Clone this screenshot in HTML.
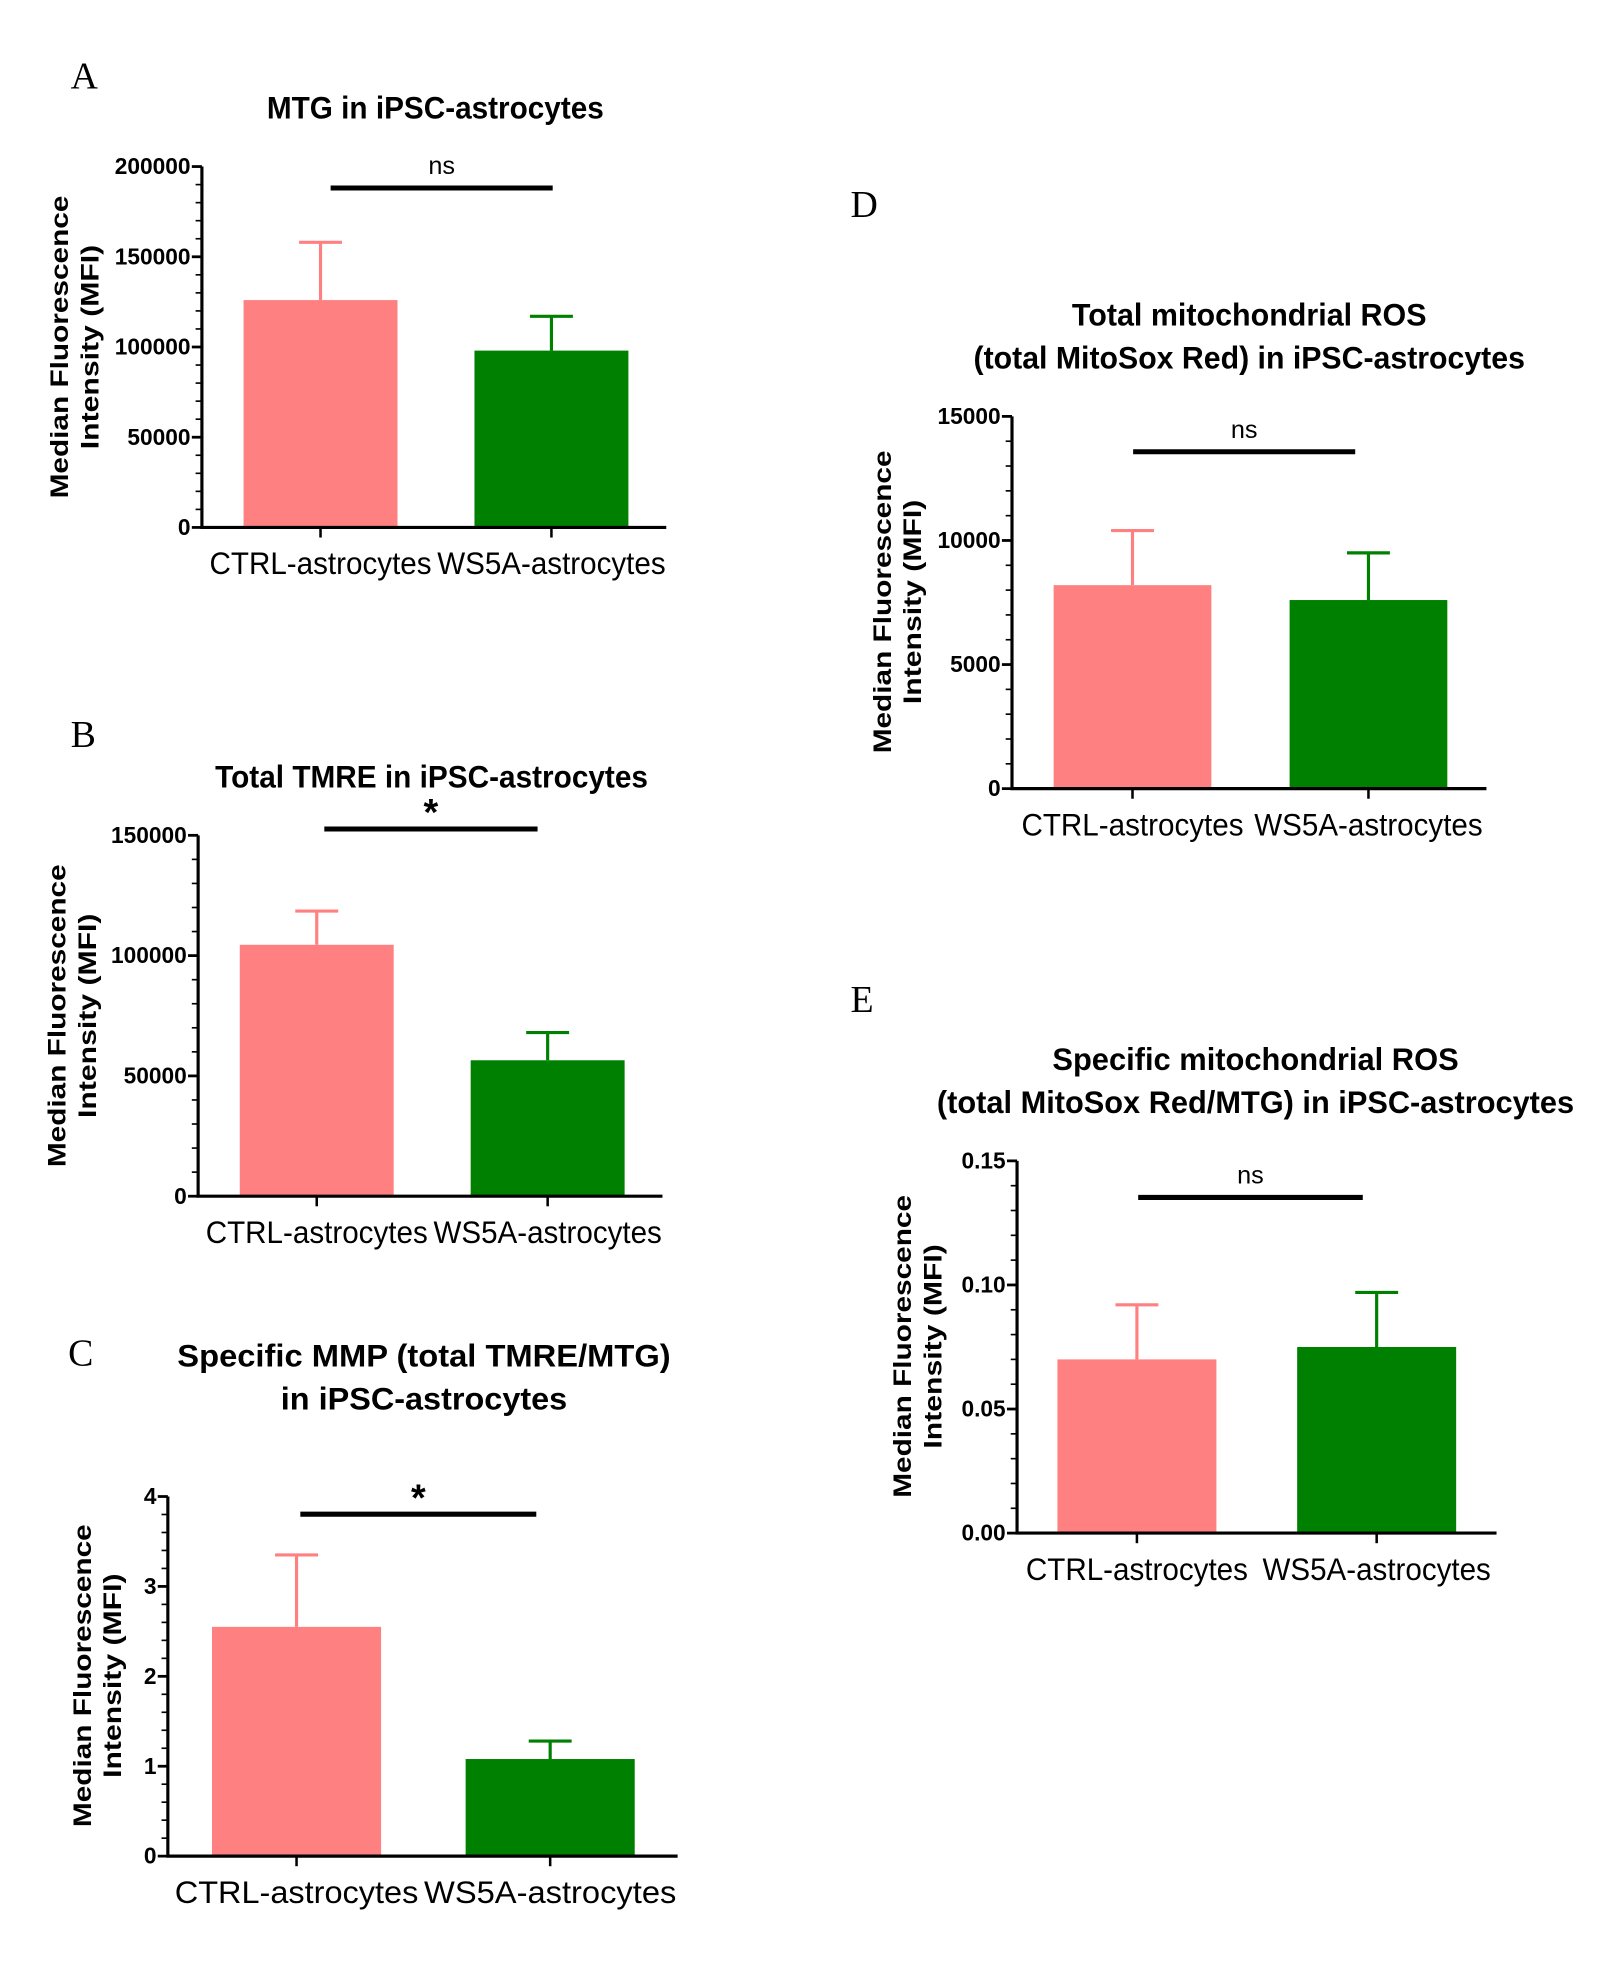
<!DOCTYPE html>
<html><head><meta charset="utf-8"><style>
html,body{margin:0;padding:0;background:#fff}
svg{display:block}
</style></head><body>
<svg id="fig" width="1624" height="1976" viewBox="0 0 1287 1566" xmlns="http://www.w3.org/2000/svg"></svg>
<script>
const categories = ["CTRL-astrocytes","WS5A-astrocytes"];
const meansA = [126000, 98000], errsA = [158000, 117000];
const meansB = [104500, 56500], errsB = [118500, 68000];
const meansC = [2.55, 1.08], errsC = [3.35, 1.28];
const meansD = [8200, 7600], errsD = [10400, 9500];
const meansE = [0.070, 0.075], errsE = [0.092, 0.097];
const ticksA = ["0","50000","100000","150000","200000"];
const ticksB = ["0","50000","100000","150000"];
const ticksC = ["0","1","2","3","4"];
const ticksD = ["0","5000","10000","15000"];
const ticksE = ["0.00","0.05","0.10","0.15"];
const sigA="ns", sigB="*", sigC="*", sigD="ns", sigE="ns";

const NS="http://www.w3.org/2000/svg";
const svg=document.getElementById('fig');
const COLORS=["#ff8080","#008000"];
function mk(tag,attrs,parent,text){const e=document.createElementNS(NS,tag);for(const k in attrs)e.setAttribute(k,attrs[k]);if(text!==undefined)e.textContent=text;(parent||svg).appendChild(e);return e;}

function panel(p){
  const g=mk('g',{});
  
  
  const ymax=parseFloat(p.ticks[p.ticks.length-1]);
  const ys=v=>p.bottom-(v/ymax)*(p.bottom-p.top);
  const CATW=p.catw||[176,181];
  const L=mk('text',{x:p.letter[0],y:p.letter[1],'font-family':'Liberation Serif,serif','font-size':30},g,p.id);
  
  p.title.forEach((t,i)=>{const e=mk('text',{x:p.titleX,y:p.titleY+i*34,'text-anchor':'middle','font-family':'Liberation Sans,sans-serif','font-weight':'bold','font-size':25,textLength:p.tw[i],lengthAdjust:'spacingAndGlyphs'},g,t);
    });
  categories.forEach((c,i)=>{
    const x0=p.bars[i], w=p.bw, yv=ys(p.means[i]), ye=ys(p.errs[i]), cx=x0+w/2;
    const b=mk('rect',{x:x0,y:yv,width:w,height:p.bottom-yv,fill:COLORS[i]},g);
    
    const el=mk('path',{d:`M${cx} ${yv}V${ye}M${cx-17} ${ye}H${cx+17}`,stroke:COLORS[i],'stroke-width':2.5,fill:'none'},g);
    
    const cl=mk('text',{x:cx,y:p.bottom+37,'text-anchor':'middle','font-family':'Liberation Sans,sans-serif','font-size':25,textLength:CATW[i],lengthAdjust:'spacingAndGlyphs'},g,c);
    
    mk('line',{x1:cx,y1:p.bottom,x2:cx,y2:p.bottom+8,stroke:'#000','stroke-width':2},g);
  });
  const ax=mk('path',{d:`M${p.ax} ${p.top}V${p.bottom}H${p.axEnd}`,stroke:'#000','stroke-width':2.5,fill:'none'},g);
  
  const n=p.ticks.length-1, minor=p.minor;
  for(let i=0;i<=n*minor;i++){
    const v=ymax*i/(n*minor), y=ys(v), major=i%minor===0;
    mk('line',{x1:p.ax-(major?8:5),y1:y,x2:p.ax,y2:y,stroke:'#000','stroke-width':major?2.2:1.3},g);
  }
  p.ticks.forEach((t,i)=>{const y=ys(parseFloat(t));
    const e=mk('text',{x:p.ax-9,y:y+6,'text-anchor':'end','font-family':'Liberation Sans,sans-serif','font-weight':'bold','font-size':18},g,t);
    });
  const cy=p.ytCy, ytw=[240,162];
  p.yt.forEach((t,i)=>{const x=p.ytX+i*24;
    const e=mk('text',{x:x,y:cy,transform:`rotate(-90 ${x} ${cy})`,'text-anchor':'middle','font-family':'Liberation Sans,sans-serif','font-weight':'bold','font-size':20,textLength:ytw[i],lengthAdjust:'spacingAndGlyphs'},g,t);
    });
  const br=mk('line',{x1:p.br[0],x2:p.br[1],y1:p.br[2],y2:p.br[2],stroke:'#000','stroke-width':4},g);
  
  const s=mk('text',{x:(p.br[0]+p.br[1])/2,y:p.sig==='*'?p.br[2]-3:p.br[2]-11,'text-anchor':'middle','font-family':'Liberation Sans,sans-serif','font-size':p.sig==='*'?30:20,'font-weight':p.sig==='*'?'bold':'normal'},g,p.sig);
  
}
const YT=["Median Fluorescence","Intensity (MFI)"];
panel({id:'A',letter:[56,70],title:["MTG in iPSC-astrocytes"],tw:[267],titleX:345,titleY:94,top:132,bottom:418,ax:160,axEnd:528,bars:[193,376],bw:122,means:meansA,errs:errsA,ticks:ticksA,minor:5,yt:YT,ytX:54,ytCy:275,br:[262,438,149],sig:sigA});
panel({id:'B',letter:[56,592],title:["Total TMRE in iPSC-astrocytes"],tw:[343],titleX:342,titleY:624,top:662,bottom:948,ax:157,axEnd:525,bars:[190,373],bw:122,means:meansB,errs:errsB,ticks:ticksB,minor:5,yt:YT,ytX:52,ytCy:805,br:[257,426,657],sig:sigB});
panel({id:'C',letter:[54,1082],title:["Specific MMP (total TMRE/MTG)","in iPSC-astrocytes"],tw:[391,227],titleX:336,titleY:1083,top:1186,bottom:1471,ax:133,axEnd:537,bars:[168,369],bw:134,means:meansC,errs:errsC,ticks:ticksC,minor:5,yt:YT,ytX:72,ytCy:1328,br:[238,425,1200],sig:sigC,catw:[193,200]});
panel({id:'D',letter:[674,172],title:["Total mitochondrial ROS","(total MitoSox Red) in iPSC-astrocytes"],tw:[281,437],titleX:990,titleY:258,top:330,bottom:625,ax:802,axEnd:1178,bars:[835,1022],bw:125,means:meansD,errs:errsD,ticks:ticksD,minor:5,yt:YT,ytX:706,ytCy:477,br:[898,1074,358],sig:sigD});
panel({id:'E',letter:[674,802],title:["Specific mitochondrial ROS","(total MitoSox Red/MTG) in iPSC-astrocytes"],tw:[322,505],titleX:995,titleY:848,top:920,bottom:1215,ax:806,axEnd:1186,bars:[838,1028],bw:126,means:meansE,errs:errsE,ticks:ticksE,minor:5,yt:YT,ytX:722,ytCy:1067,br:[902,1080,949],sig:sigE});
</script>
</body></html>
